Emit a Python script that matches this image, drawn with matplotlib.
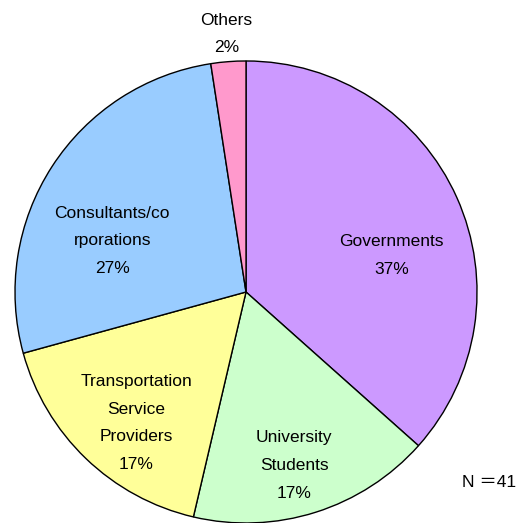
import matplotlib.pyplot as plt
import numpy as np

# survey respondents by category (N = 41)
categories = ['Governments', 'University\nStudents', 'Transportation\nService\nProviders',
              'Consultants/co\nrporations', 'Others']
counts = [15, 7, 7, 11, 1]
pct_labels = ['37%', '17%', '17%', '27%', '2%']
colors = ['#CC99FF', '#CCFFCC', '#FFFF99', '#99CCFF', '#FF99CC']

plt.rcParams['font.family'] = ['Liberation Sans', 'Noto Sans CJK JP', 'DejaVu Sans']

fig = plt.figure(figsize=(5.21, 5.23), dpi=100)
ax = fig.add_axes([0.0288, 0.0, 0.8868, 0.8834])

wedges, _ = ax.pie(counts, colors=colors, startangle=90, counterclock=False,
                   radius=1.0, wedgeprops={'edgecolor': 'black', 'linewidth': 1.0})

# label placement (radius, angle offset in degrees from wedge middle)
label_r = [0.65, 0.78, 0.74, 0.62, 1.12]
label_dang = [-10, -2, 4, 12, 0]

for w, name, pct, r, da in zip(wedges, categories, pct_labels, label_r, label_dang):
    mid = np.deg2rad((w.theta1 + w.theta2) / 2 + da)
    ax.text(r * np.cos(mid), r * np.sin(mid), name + '\n' + pct,
            ha='center', va='center', fontsize=12.5, linespacing=2.05)

ax.set_xlim(-1, 1)
ax.set_ylim(-1, 1)
ax.set_aspect('equal')
ax.axis('off')

fig.text(0.99, 0.077, 'N ＝41', ha='right', va='center', fontsize=12.5)

fig.savefig('out.png', dpi=100)
